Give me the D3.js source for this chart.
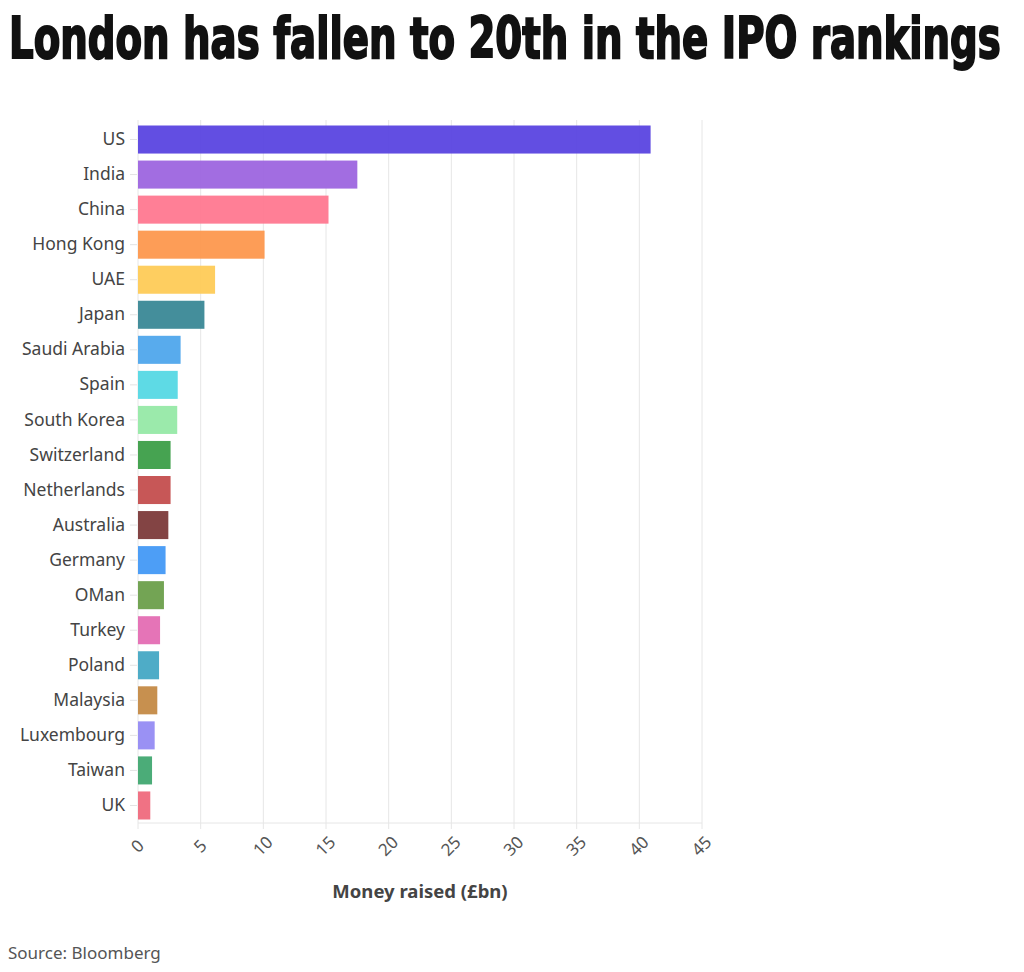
<!DOCTYPE html>
<html><head><meta charset="utf-8">
<script src="https://cdn.jsdelivr.net/npm/d3@7"></script>
<style>
html,body{margin:0;padding:0;background:#fff;}
svg{display:block;}
</style></head>
<body>
<svg id="chart" width="1024" height="972"></svg>
<script>
const countries = ["US","India","China","Hong Kong","UAE","Japan","Saudi Arabia","Spain","South Korea","Switzerland","Netherlands","Australia","Germany","OMan","Turkey","Poland","Malaysia","Luxembourg","Taiwan","UK"];
const moneyRaised = [40.9,17.5,15.2,10.1,6.15,5.3,3.4,3.17,3.13,2.6,2.6,2.42,2.2,2.07,1.76,1.68,1.54,1.33,1.12,0.98];
const barColors = ["#5a45e0","#9d65df","#ff7890","#fd984e","#fecb57","#3a8896","#4fa6ec","#55d8e4","#96e9a6","#3c9e48","#c44e4e","#7c3a3a","#4399f5","#6c9f4b","#e46db3","#44a8c4","#c48a46","#958bf3","#41a871","#ef6a7d"];
const xTicks = [0,5,10,15,20,25,30,35,40,45];

const svg = d3.select("#chart");
const m = {left:138, right:322, top:122, bottom:149};
const W = 1024, H = 972;
const x = d3.scaleLinear().domain([0,45]).range([m.left, W - m.right]);
const y = d3.scaleBand().domain(countries).range([m.top, H - m.bottom]).paddingInner(0.2).paddingOuter(0.1);

// Title (scaled horizontally to fit the reference width)
const title = svg.append("text")
  .attr("x", 0).attr("y", 0)
  .style("font-family", "'Liberation Sans Narrow','DejaVu Sans Condensed',sans-serif")
  .style("font-weight", "900").style("font-size", "57px")
  .style("fill", "#111").style("stroke", "#111").style("stroke-width", "2px")
  .text("London has fallen to 20th in the IPO rankings");
const natural = title.node().getComputedTextLength();
title.attr("transform", `translate(9,58) scale(${992 / natural},1)`);

// Gridlines
svg.append("g").selectAll("line").data(xTicks).join("line")
  .attr("x1", d => x(d)).attr("x2", d => x(d))
  .attr("y1", m.top - 2).attr("y2", H - m.bottom + 6)
  .attr("stroke", "#e6e6e6").attr("stroke-width", 1);

// x axis baseline
svg.append("line")
  .attr("x1", x(0)).attr("x2", x(45))
  .attr("y1", H - m.bottom).attr("y2", H - m.bottom)
  .attr("stroke", "#e6e6e6");

// Bars
svg.append("g").selectAll("rect").data(countries).join("rect")
  .attr("x", x(0)).attr("y", d => y(d))
  .attr("width", (d,i) => x(moneyRaised[i]) - x(0))
  .attr("height", y.bandwidth())
  .attr("fill", (d,i) => barColors[i]).attr("fill-opacity", 0.95);

// Y axis
const yAxis = svg.append("g").attr("transform", `translate(${x(0)},0)`)
  .call(d3.axisLeft(y).tickSize(8).tickPadding(5));
yAxis.select(".domain").remove();
yAxis.selectAll(".tick line").attr("stroke", "#e3e3e3").attr("x2", -8).attr("x1", -1);
yAxis.selectAll(".tick text")
  .style("font-family", "'Noto Sans',sans-serif").style("font-size", "17.5px").style("fill", "#444");

// X axis tick labels
const xAxis = svg.append("g").attr("transform", `translate(0,${H - m.bottom})`)
  .call(d3.axisBottom(x).tickValues(xTicks).tickSize(0).tickPadding(0));
xAxis.select(".domain").remove();
xAxis.selectAll(".tick text")
  .attr("y", 0).attr("dy", 0)
  .attr("transform", "translate(0,24) rotate(-45)")
  .attr("text-anchor", "middle").attr("dominant-baseline", "middle")
  .style("font-family", "'Noto Sans',sans-serif").style("font-size", "17px").style("fill", "#555");

// Axis title
svg.append("text")
  .attr("x", (x(0) + x(45)) / 2).attr("y", 898)
  .attr("text-anchor", "middle")
  .style("font-family", "'Noto Sans',sans-serif").style("font-weight", "700").style("font-size", "18.5px").style("fill", "#444")
  .text("Money raised (£bn)");

// Source
svg.append("text")
  .attr("x", 8).attr("y", 959)
  .style("font-family", "'Noto Sans',sans-serif").style("font-size", "17px").style("fill", "#555")
  .text("Source: Bloomberg");
</script>
</body></html>
